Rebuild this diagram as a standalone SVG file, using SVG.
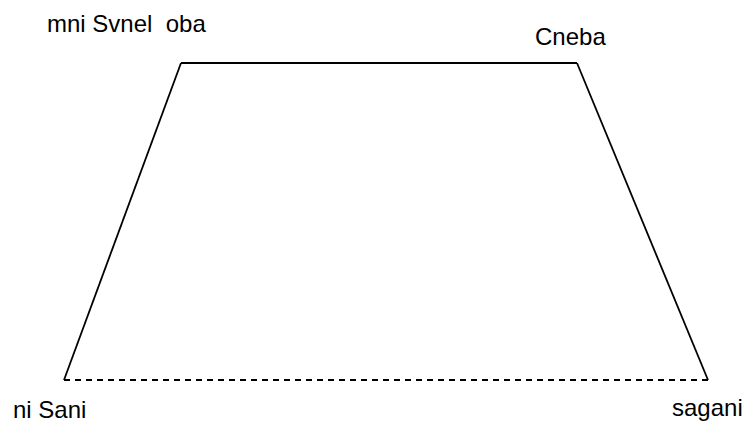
<svg xmlns="http://www.w3.org/2000/svg" width="750" height="426" viewBox="0 0 750 426">
<style>
.lbl{font-family:"Liberation Sans",Arial,sans-serif;font-size:24px;fill:#000}
.edge{stroke:#000;stroke-width:1.8;fill:none}
.dash{stroke-dasharray:6,5}
</style>
<rect width="750" height="426" fill="#fff"/>
<g id="connectors">
<line class="edge" x1="181" y1="63" x2="577" y2="63"/>
<line class="edge" x1="577" y1="63" x2="708" y2="380"/>
<line class="edge dash" x1="64" y1="380" x2="708" y2="380"/>
<line class="edge" x1="181" y1="63" x2="64" y2="380"/>
</g>
<g id="n-top-left"><text class="lbl" x="47" y="32" xml:space="preserve">mni Svnel  oba</text></g>
<g id="n-top-right"><text class="lbl" x="535" y="45">Cneba</text></g>
<g id="n-bottom-left"><text class="lbl" x="13" y="418">ni Sani</text></g>
<g id="n-bottom-right"><text class="lbl" x="672" y="416">sagani</text></g>
</svg>
